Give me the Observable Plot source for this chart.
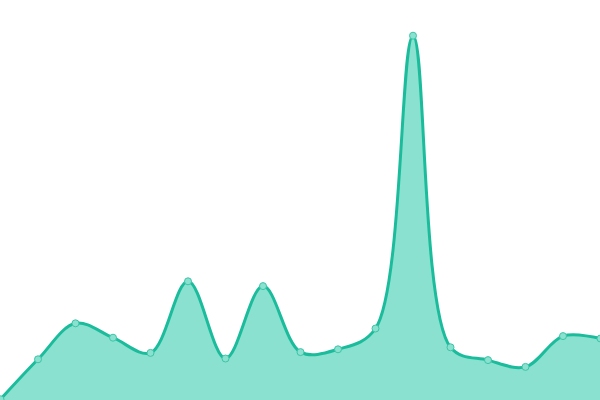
<!DOCTYPE html>
<html><head><meta charset="utf-8">
<script src="https://cdn.jsdelivr.net/npm/d3@7"></script>
<script src="https://cdn.jsdelivr.net/npm/@observablehq/plot@0.6"></script>
<style>body{margin:0;background:#fff}</style>
</head><body><div id="chart"></div>
<script>
const idx = [0,1,2,3,4,5,6,7,8,9,10,11,12,13,14,15,16];
const values = [0.3,10.3,19.3,15.7,11.9,29.8,10.5,28.6,12.1,12.8,18,91.2,13.3,10.1,8.4,16.1,15.5];
const data = idx.map((i,k)=>({i, v: values[k]}));
const chart = Plot.plot({
  width:600, height:400, margin:0,
  x:{domain:[0,16], axis:null},
  y:{domain:[0,100], axis:null},
  marks:[
    Plot.areaY(data,{x:"i", y:"v", curve:"catmull-rom", fill:"#8ae1cf"}),
    Plot.lineY(data,{x:"i", y:"v", curve:"catmull-rom", stroke:"#1abc9c", strokeWidth:3}),
    Plot.dot(data,{x:"i", y:"v", r:3.5, fill:"#8ae1cf", stroke:"#3cc5a8", strokeWidth:1})
  ]
});
document.getElementById("chart").appendChild(chart);
</script></body></html>
